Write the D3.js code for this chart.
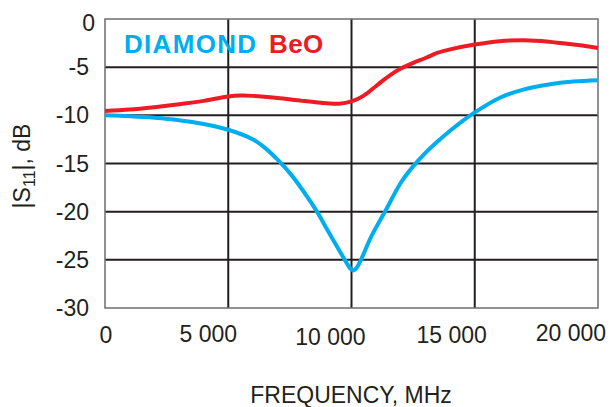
<!DOCTYPE html>
<html><head><meta charset="utf-8">
<script src="https://cdn.jsdelivr.net/npm/d3@7"></script>
<style>body{margin:0;background:#fff}svg{display:block}text{font-family:"Liberation Sans",Arial,sans-serif;fill:#231f20}</style>
</head><body><div id="c"></div>
<script>
const freqDiamond = [0,1000,2000,3000,4000,5000,6000,6500,7000,7500,8000,8600,9000,9500,9750,9950,10080,10220,10400,10800,11400,12000,12500,13000,13500,14000,14500,15000,16000,17000,18000,19000,20000];
const s11Diamond  = [-10.0,-10.1,-10.25,-10.5,-10.9,-11.5,-12.5,-13.4,-14.6,-16.0,-17.7,-20.0,-21.8,-24.0,-25.1,-25.9,-26.1,-25.8,-24.9,-22.6,-19.8,-17.0,-15.3,-13.9,-12.7,-11.6,-10.6,-9.7,-8.2,-7.3,-6.8,-6.5,-6.35];
const freqBeO = [0,1000,2000,3000,4000,5000,5500,6000,7000,8000,9000,9500,10000,10500,11000,11500,12000,12500,13000,13500,14000,15000,16000,17000,18000,19000,20000];
const s11BeO  = [-9.55,-9.4,-9.15,-8.85,-8.5,-8.05,-7.95,-7.98,-8.2,-8.5,-8.75,-8.8,-8.55,-7.95,-6.95,-5.95,-5.15,-4.55,-4.05,-3.5,-3.15,-2.65,-2.3,-2.2,-2.35,-2.65,-3.0];
const xTicks = [0,5000,10000,15000,20000];
const xTickLabels = ["0","5 000","10 000","15 000","20 000"];
const yTicks = [0,-5,-10,-15,-20,-25,-30];
const yTickLabels = ["0","-5","-10","-15","-20","-25","-30"];
const seriesNames = ["DIAMOND","BeO"];
const seriesColors = ["#00aeef","#ed1c24"];

const W=611,H=407;
const svg=d3.select("#c").append("svg").attr("width",W).attr("height",H);
const x=d3.scaleLinear().domain([0,20000]).range([105,598]);
const y=d3.scaleLinear().domain([-30,0]).range([308,19]);

// grid
svg.append("g").selectAll("line").data(xTicks.slice(1,-1)).join("line")
  .attr("x1",d=>x(d)).attr("x2",d=>x(d)).attr("y1",y(0)).attr("y2",y(-30))
  .attr("stroke","#231f20").attr("stroke-width",2);
svg.append("g").selectAll("line").data(yTicks.slice(1,-1)).join("line")
  .attr("x1",x(0)).attr("x2",x(20000)).attr("y1",d=>y(d)).attr("y2",d=>y(d))
  .attr("stroke","#231f20").attr("stroke-width",2);
// frame
svg.append("rect").attr("x",x(0)).attr("y",y(0)).attr("width",x(20000)-x(0)).attr("height",y(-30)-y(0))
  .attr("fill","none").attr("stroke","#6d6e71").attr("stroke-width",1.5);

// curves
const line=d3.line().x(d=>x(d[0])).y(d=>y(d[1])).curve(d3.curveCatmullRom.alpha(0.5));
const sets=[d3.zip(freqDiamond,s11Diamond), d3.zip(freqBeO,s11BeO)];
sets.forEach((s,i)=>{
  svg.append("path").datum(s).attr("d",line).attr("fill","none")
    .attr("stroke",seriesColors[i]).attr("stroke-width",4).attr("stroke-linejoin","round");
});

// y tick labels
const yNudge={"0":[6,4]};
svg.append("g").selectAll("text").data(yTicks).join("text")
  .attr("x",d=>89+((yNudge[String(d)]||[0,0])[0]))
  .attr("y",d=>y(d)+8+((yNudge[String(d)]||[0,0])[1]))
  .attr("text-anchor","end").attr("font-size",23)
  .text((d,i)=>yTickLabels[i]);

// x tick labels
const xdx=[1,-20,-21,-23,-27], xby=[343,342,345,343,341];
svg.append("g").selectAll("text").data(xTicks).join("text")
  .attr("x",(d,i)=>x(d)+xdx[i]).attr("y",(d,i)=>xby[i])
  .attr("text-anchor","middle").attr("font-size",23)
  .text((d,i)=>xTickLabels[i]);

// axis titles
svg.append("text").attr("x",351).attr("y",403).attr("text-anchor","middle").attr("font-size",23)
  .text("FREQUENCY, MHz");
const yt=svg.append("text").attr("transform","translate(30,166) rotate(-90)").attr("text-anchor","middle").attr("font-size",23);
yt.append("tspan").text("|S");
yt.append("tspan").attr("font-size",16).attr("dy",5).text("11");
yt.append("tspan").attr("dy",-5).text("|, dB");

// legend
const lgX=[124,269];
seriesNames.forEach((n,i)=>{
  svg.append("text").attr("x",lgX[i]).attr("y",53).attr("font-size",26).attr("font-weight","bold")
    .attr("letter-spacing",i===0?1.3:0.4).style("fill",seriesColors[i]).text(n);
});
</script></body></html>
